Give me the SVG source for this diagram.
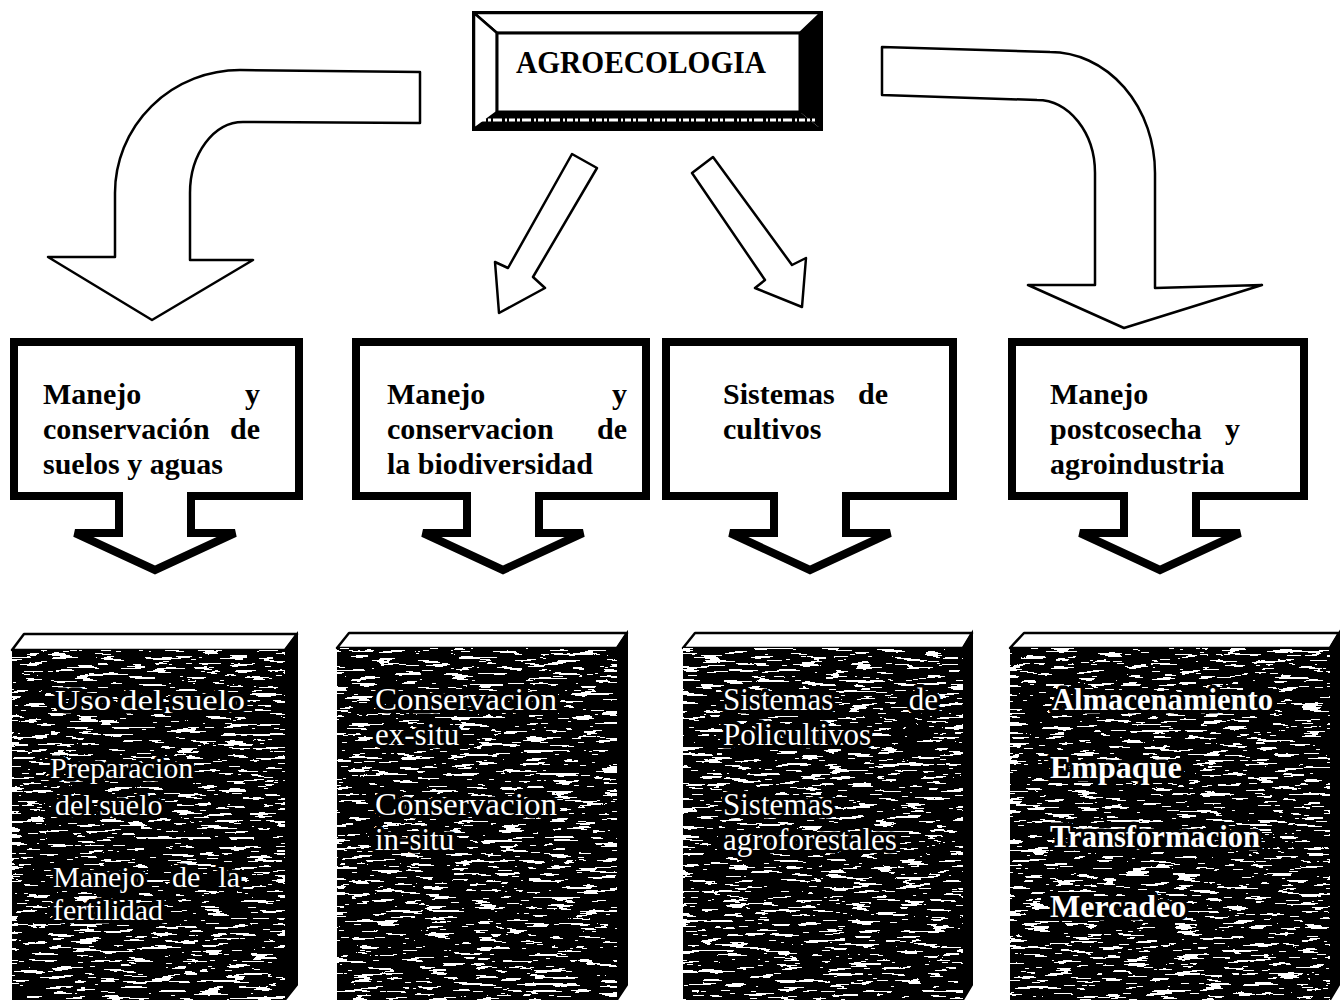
<svg xmlns="http://www.w3.org/2000/svg" width="1340" height="1000" viewBox="0 0 1340 1000">
<style>
.arr{fill:#fff;stroke:#000;stroke-width:2.5;stroke-linejoin:round}
.cb{fill:#fff;stroke:#000;stroke-width:8;stroke-linejoin:miter}
.lbl{font-family:"Liberation Serif","Times New Roman",serif;font-weight:bold;font-size:30px;fill:#000}
.wt{font-family:"Liberation Serif","Times New Roman",serif;fill:#fff;stroke:#000;stroke-width:7;paint-order:stroke;stroke-linejoin:round}
.face{fill:#000}
.top{fill:#fff;stroke:#000;stroke-width:2.5;stroke-linejoin:round}
.side{fill:#000;stroke:#000;stroke-width:2}
.grain{filter:url(#speck)}
</style>
<defs>
<filter id="speck" x="0" y="0" width="1" height="1" filterUnits="objectBoundingBox" color-interpolation-filters="sRGB">
<feTurbulence type="fractalNoise" baseFrequency="0.04 0.3" numOctaves="3" seed="7"/>
<feColorMatrix type="matrix" values="0 0 0 0 1  0 0 0 0 1  0 0 0 0 1  1.2 0 0 0 -0.05"/>
<feComponentTransfer><feFuncA type="discrete" tableValues="0 0 0 0 0 0 0 0 0 0 0 1 1 1 1 1"/></feComponentTransfer>
</filter>
</defs>
<rect width="1340" height="1000" fill="#fff"/>

<g id="agroecologia">
<rect x="474" y="13" width="347" height="116" fill="#fff" stroke="#000" stroke-width="4"/>
<polygon points="474,13 821,13 800,33 497,33" class="top"/>
<polygon points="474,13 497,33 497,112 474,129" class="top"/>
<polygon points="821,13 821,129 800,112 800,33" fill="#000"/>
<polygon points="474,129 497,112 800,112 821,129" fill="#000"/>
<line x1="480" y1="120" x2="815" y2="120" stroke="#fff" stroke-width="3" stroke-dasharray="6 2 3 2 9 3 2 2"/>
<rect x="497" y="33" width="303" height="79" fill="#fff" stroke="#000" stroke-width="3"/>
<text x="641" y="73" text-anchor="middle" class="lbl" style="font-size:31px" textLength="250" lengthAdjust="spacingAndGlyphs">AGROECOLOGIA</text>
</g>

<g id="connectors">
<path class="arr" d="M420 72 L240 70 A125 123 0 0 0 115 193 L115 257 L48 257 L152 320 L253 260 L190 260 L190 193 A53 71 0 0 1 243 122 L420 123 Z"/>
<path class="arr" d="M882 47 L1050 52 A105 121 0 0 1 1155 173 L1155 288 L1262 285 L1124 328 L1028 285 L1095 285 L1095 173 A58 73 0 0 0 1037 100 L882 95 Z"/>
<polygon class="arr" points="572,154 597,168 533,277 545,288 499,313 495,262 508,268"/>
<polygon class="arr" points="713,157 692,173 765,280 755,288 802,307 806,258 792,265"/>
</g>

<g id="box-suelos">
<path class="cb" d="M14 342 H299 V496 H191 V533 H235 L155 570 L75 533 H119 V496 H14 Z"/>
<text class="lbl" x="43" y="404">Manejo</text><text class="lbl" x="260" y="404" text-anchor="end">y</text>
<text class="lbl" x="43" y="439">conservación</text><text class="lbl" x="260" y="439" text-anchor="end">de</text>
<text class="lbl" x="43" y="474">suelos y aguas</text>
</g>
<g id="box-biodiversidad">
<path class="cb" d="M356 342 H646 V496 H539 V533 H583 L503 570 L423 533 H467 V496 H356 Z"/>
<text class="lbl" x="387" y="404">Manejo</text><text class="lbl" x="627" y="404" text-anchor="end">y</text>
<text class="lbl" x="387" y="439">conservacion</text><text class="lbl" x="627" y="439" text-anchor="end">de</text>
<text class="lbl" x="387" y="474">la biodiversidad</text>
</g>
<g id="box-cultivos">
<path class="cb" d="M666 342 H953 V496 H846 V533 H890 L810 570 L730 533 H774 V496 H666 Z"/>
<text class="lbl" x="723" y="404">Sistemas</text><text class="lbl" x="888" y="404" text-anchor="end">de</text>
<text class="lbl" x="723" y="439">cultivos</text>
</g>
<g id="box-postcosecha">
<path class="cb" d="M1012 342 H1304 V496 H1196 V533 H1240 L1160 570 L1080 533 H1124 V496 H1012 Z"/>
<text class="lbl" x="1050" y="404">Manejo</text>
<text class="lbl" x="1050" y="439">postcosecha</text><text class="lbl" x="1240" y="439" text-anchor="end">y</text>
<text class="lbl" x="1050" y="474">agroindustria</text>
</g>

<g id="block-suelos">
<polygon class="top" points="12,650 24,634 297,634 285,650"/>
<polygon class="side" points="285,650 297,634 297,985 285,1000"/>
<rect class="face" x="12" y="650" width="273" height="350"/>
<rect class="grain" x="12" y="650" width="273" height="350"/>
<g class="wt" style="font-size:30px">
<text x="55" y="710" textLength="190" lengthAdjust="spacingAndGlyphs">Uso del suelo</text>
<text x="50" y="778">Preparacion</text>
<text x="55" y="815">del suelo</text>
<text x="53" y="887">Manejo</text><text x="172" y="887">de</text><text x="240" y="887" text-anchor="end">la</text>
<text x="53" y="920">fertilidad</text>
</g>
</g>
<g id="block-biodiversidad">
<polygon class="top" points="337,648 349,633 627,633 617,648"/>
<polygon class="side" points="617,648 627,633 627,985 617,1000"/>
<rect class="face" x="337" y="648" width="280" height="352"/>
<rect class="grain" x="337" y="648" width="280" height="352"/>
<g class="wt" style="font-size:31px">
<text x="375" y="710" textLength="182" lengthAdjust="spacingAndGlyphs">Conservacion</text>
<text x="375" y="745">ex-situ</text>
<text x="375" y="815" textLength="182" lengthAdjust="spacingAndGlyphs">Conservacion</text>
<text x="375" y="850">in-situ</text>
</g>
</g>
<g id="block-cultivos">
<polygon class="top" points="683,648 695,633 972,633 963,648"/>
<polygon class="side" points="963,648 972,633 972,985 963,1000"/>
<rect class="face" x="683" y="648" width="280" height="352"/>
<rect class="grain" x="683" y="648" width="280" height="352"/>
<g class="wt" style="font-size:31px">
<text x="723" y="710">Sistemas</text><text x="938" y="710" text-anchor="end">de</text>
<text x="723" y="745">Policultivos</text>
<text x="723" y="815">Sistemas</text>
<text x="723" y="850">agroforestales</text>
</g>
</g>
<g id="block-postcosecha">
<polygon class="top" points="1010,648 1024,633 1339,633 1330,648"/>
<polygon class="side" points="1330,648 1339,633 1339,985 1330,1000"/>
<rect class="face" x="1010" y="648" width="320" height="352"/>
<rect class="grain" x="1010" y="648" width="320" height="352"/>
<g class="wt" style="font-size:32px;font-weight:bold">
<text x="1052" y="710" textLength="221" lengthAdjust="spacingAndGlyphs">Almacenamiento</text>
<text x="1050" y="778">Empaque</text>
<text x="1050" y="847" textLength="210" lengthAdjust="spacingAndGlyphs">Transformacion</text>
<text x="1050" y="917">Mercadeo</text>
</g>
</g>
</svg>
